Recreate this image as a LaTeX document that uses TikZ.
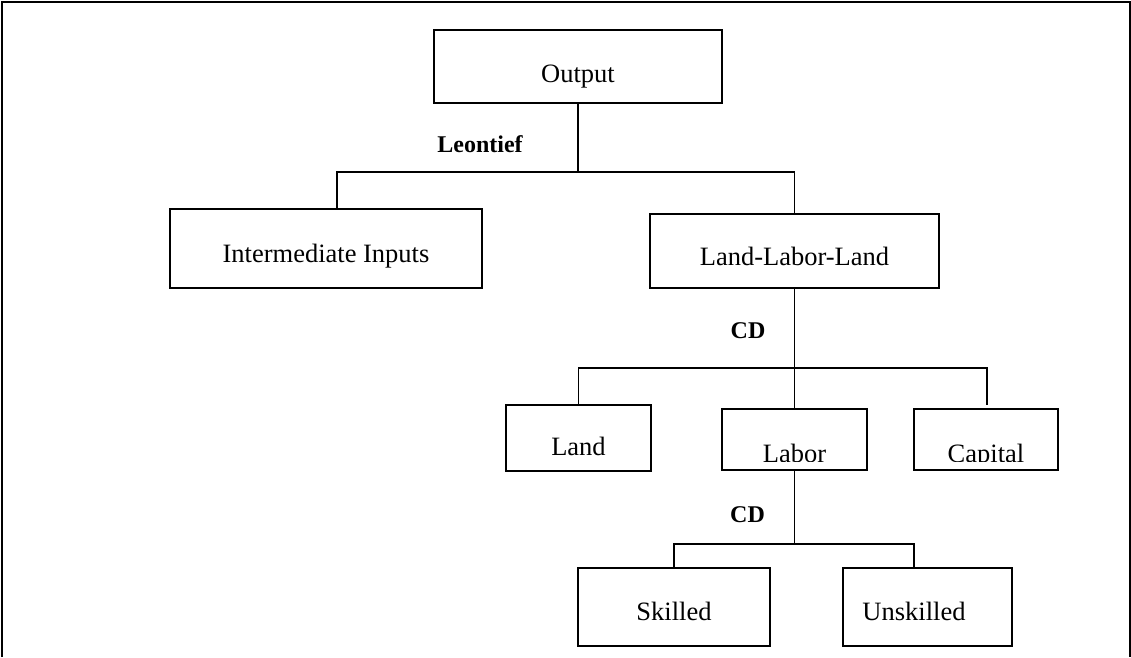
\documentclass[tikz,border=0pt]{standalone}
\usepackage{fontspec}
\setmainfont{Liberation Serif}
\begin{document}
\begin{tikzpicture}[x=1pt,y=-1pt,
  box/.style={draw, line width=1.6pt, inner sep=0pt, font=\fontsize{26.5}{30}\selectfont, text depth=0pt},
  conn/.style={line width=1.6pt},
  lbl/.style={font=\fontsize{24}{28}\selectfont\bfseries, inner sep=0pt},
  cliptext/.style={path picture={
    \clip (path picture bounding box.north west) rectangle ([yshift=9pt]path picture bounding box.south east);
    \node[anchor=base, inner sep=0pt, font=\fontsize{26.5}{30}\selectfont] at ([yshift=8pt]path picture bounding box.south) {#1};}}
]
\useasboundingbox (0,0) rectangle (1131,657);
% outer frame (open at the bottom)
\draw[line width=2.2pt] (2,657) -- (2,2) -- (1130,2) -- (1130,657);

% boxes
\node[box, minimum width=288pt, minimum height=73pt, text height=31pt] (out) at (578,66.5) {Output};
\node[box, minimum width=312pt, minimum height=79pt, text height=27pt] (ii) at (326,248.5) {Intermediate Inputs};
\node[box, minimum width=289pt, minimum height=74pt, text height=29.4pt] (lll) at (794.5,251) {Land-Labor-Land};
\node[box, minimum width=145pt, minimum height=66pt, text height=35.4pt] (land) at (578.5,438) {Land};
\node[box, minimum width=145pt, minimum height=61pt, cliptext=Labor] (labor) at (794.5,439.5) {};
\node[box, minimum width=144pt, minimum height=61pt, cliptext=Capital] (cap) at (986,439.5) {};
\node[box, minimum width=192pt, minimum height=78pt, text height=26pt] (sk) at (674,607) {Skilled};
\node[box, minimum width=169pt, minimum height=78pt, text height=26pt] (unsk) at (927.5,607) {Unskilled\hspace*{27pt}};

% junctions and free ends
\coordinate (j1) at (578,172);
\coordinate (iit) at (337,209);
\coordinate (j2) at (794.5,368);
\coordinate (capt) at (987,405);
\coordinate (j3) at (794.5,544);
\coordinate (ut) at (914,568);

% connectors
\draw[conn] (out.south) -- (j1);
\draw[conn] (iit) |- (j1) -| (lll.north);
\draw[conn] (lll.south) -- (j2);
\draw[conn] (land.north) |- (j2) -| (capt);
\draw[conn] (j2) -- (labor.north);
\draw[conn] (labor.south) -- (j3);
\draw[conn] (sk.north) |- (j3) -| (ut);

% labels
\node[lbl] (leon) at (480,144) {Leontief};
\node[lbl] (cd1) at (748,331) {CD};
\node[lbl] (cd2) at (747.5,515) {CD};
\end{tikzpicture}
\end{document}
